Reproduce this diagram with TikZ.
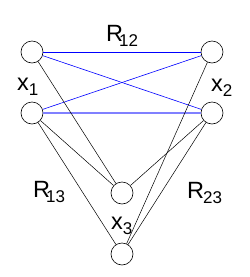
\documentclass[tikz,border=0pt]{standalone}
\usepackage{fontspec}
\setmainfont{Liberation Sans}
\newcommand\mysub[1]{\raisebox{-5pt}{\fontsize{17}{18}\selectfont #1}}
\begin{document}
\begin{tikzpicture}[x=1pt,y=-1pt,
  vert/.style={circle,draw,line width=0.6pt,minimum size=22pt,inner sep=0pt},
  lbl/.style={font=\fontsize{23.5}{24}\selectfont,inner sep=0pt,anchor=base west},
  bl/.style={blue,line width=0.6pt},
  bk/.style={black,line width=0.5pt}]
\useasboundingbox (0,0) rectangle (250,277);
\node[vert] (tl) at (32,52) {};
\node[vert] (bl) at (32,113) {};
\node[vert] (tr) at (212,52) {};
\node[vert] (br) at (212,113) {};
\node[vert] (m) at (122,193) {};
\node[vert] (b) at (122,254) {};
\draw[bl] (tl) -- (tr);
\draw[bl] (tl) -- (br);
\draw[bl] (bl) -- (tr);
\draw[blue!50,line width=1.2pt] (bl) -- (br);
\draw[bk] (tl) -- (m);
\draw[bk] (bl) -- (m);
\draw[bk] (bl) -- (b);
\draw[bk] (tr) -- (b);
\draw[bk] (br) -- (m);
\draw[bk] (br) -- (b);
\node[lbl] (r12) at (106,41) {R\kern-4pt\mysub{12}};
\node[lbl] (x1) at (17,90) {x\mysub{1}};
\node[lbl] (x2) at (211,91) {x\mysub{2}};
\node[lbl] (r13) at (33,197) {R\kern-4pt\mysub{13}};
\node[lbl] (x3) at (111,229) {x\mysub{3}};
\node[lbl] (r23) at (187,198) {R\kern-1pt\mysub{23}};
\end{tikzpicture}
\end{document}
